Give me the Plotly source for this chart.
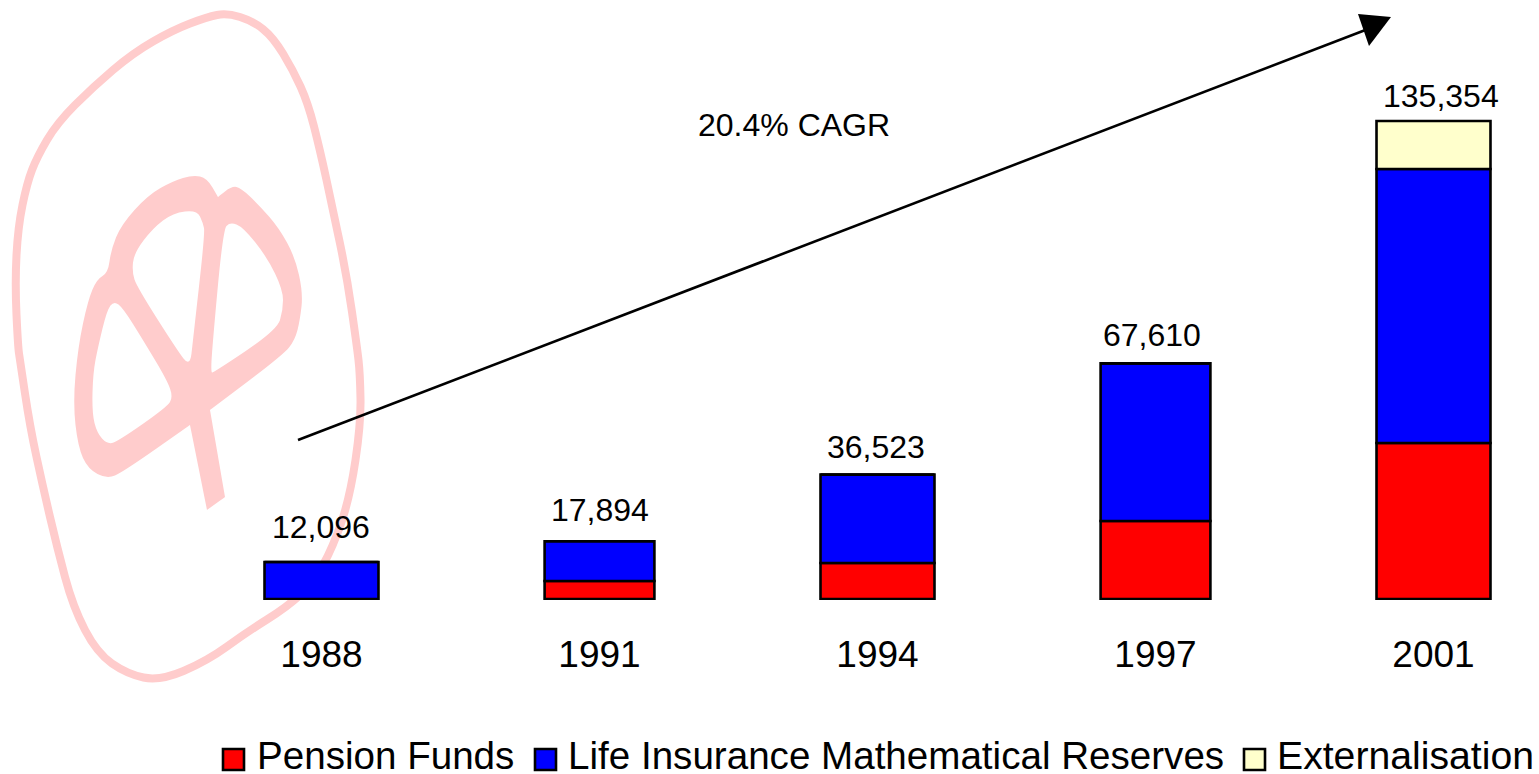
import plotly.graph_objects as go

# ---- data -------------------------------------------------------------
years = ["1988", "1991", "1994", "1997", "2001"]
pension_funds = [0, 5031, 10061, 21800, 43600]
life_insurance = [10341, 11108, 24707, 44055, 76580]
externalisation = [0, 0, 0, 0, 13419]
totals = [12096, 17894, 36523, 67610, 135354]
AXIS_FLOOR = 1755
series_names = ["Pension Funds", "Life Insurance Mathematical Reserves", "Externalisation"]
series_colors = ["#FF0000", "#0000FF", "#FFFFCC"]
cagr_label = "20.4% CAGR"

# ---- canvas helpers ---------------------------------------------------
W, H = 1539, 774
PX_PER_UNIT = 0.003578
FONT = "Liberation Sans, Arial, sans-serif"
PINK = "#FFCCCC"
BASE_PX = 600
STEP_PX = 278.0
FIRST_PX = 321.5


def px(x, y):
    return x / W, 1 - y / H


def path_straight(pts):
    out = []
    for i, (x, y) in enumerate(pts):
        a, b = px(x, y)
        out.append(f"{'M' if i == 0 else 'L'}{a:.5f},{b:.5f}")
    return " ".join(out) + " Z"


def path_smooth(pts):
    n = len(pts)
    mids = [((pts[i][0] + pts[(i + 1) % n][0]) / 2, (pts[i][1] + pts[(i + 1) % n][1]) / 2) for i in range(n)]
    a, b = px(*mids[-1])
    out = [f"M{a:.5f},{b:.5f}"]
    for i in range(n):
        c = px(*pts[i])
        m = px(*mids[i])
        out.append(f"Q{c[0]:.5f},{c[1]:.5f} {m[0]:.5f},{m[1]:.5f}")
    return " ".join(out) + " Z"


# ---- watermark outline (decoration) -----------------------------------
ring = [(227, 13), (253, 21), (273, 37), (293, 70), (308, 103), (320, 150), (333, 210), (347, 277),
        (357, 347), (360, 373), (361, 423), (350, 497), (333, 547), (313, 583), (287, 607), (247, 632),
        (207, 661), (160, 681), (127, 674), (97, 653), (73, 607), (57, 547), (43, 487), (30, 427),
        (20, 360), (18, 347), (15, 283), (18, 227), (27, 183), (37, 157), (57, 123), (93, 87),
        (133, 53), (173, 30), (207, 17)]
logo = [(218, 197), (218, 197), (207, 178), (193, 175), (173, 181), (148, 195), (121, 225), (111, 250),
        (108, 273), (97, 279), (88, 300), (78, 347), (73, 403), (78, 447), (88, 469), (107, 479),
        (123, 472), (190, 425), (190, 425), (207, 510), (207, 510), (225, 497), (225, 497), (210, 410),
        (210, 410), (283, 355), (295, 340), (300, 320), (303, 293), (295, 257), (279, 228), (259, 205),
        (241, 188), (232, 186)]
holes = [
    [(114, 301), (107, 310), (98, 347), (93, 373), (92, 413), (97, 433), (107, 444), (117, 442),
     (167, 407), (173, 397), (167, 380), (143, 340), (123, 308)],
    [(197, 210), (173, 213), (153, 228), (134, 253), (132, 272), (137, 287), (177, 350), (190, 367),
     (193, 340), (205, 233), (203, 223)],
    [(230, 222), (223, 230), (212, 350), (211, 372), (213, 373), (277, 330), (283, 310), (283, 290),
     (267, 257), (243, 227)],
]

shapes = [
    dict(type="path", xref="paper", yref="paper", layer="below", path=path_smooth(ring),
         line=dict(color=PINK, width=8), fillcolor="rgba(0,0,0,0)"),
    dict(type="path", xref="paper", yref="paper", layer="below", fillrule="evenodd",
         path=path_smooth(logo) + " " + " ".join(path_smooth(h) for h in holes),
         line=dict(width=0), fillcolor=PINK),
]

# CAGR arrow
ax0, ay0 = px(298, 440)
ax1, ay1 = px(1368, 29)
shapes.append(dict(type="line", xref="paper", yref="paper", x0=ax0, y0=ay0, x1=ax1, y1=ay1,
                   line=dict(color="black", width=2.6)))
shapes.append(dict(type="path", xref="paper", yref="paper",
                   path=path_straight([(1358, 14), (1391, 17), (1369, 46)]),
                   line=dict(width=0), fillcolor="black"))

# ---- bars -------------------------------------------------------------
bar_widths = [0.41, 0.395, 0.41, 0.395, 0.41]
fig = go.Figure()
base = [AXIS_FLOOR] * len(years)
for name, color, vals in zip(series_names, series_colors, [pension_funds, life_insurance, externalisation]):
    fig.add_trace(go.Bar(x=years, y=vals, base=list(base), name=name, width=bar_widths,
                         marker=dict(color=color, line=dict(color="black", width=2.6)),
                         showlegend=False))
    base = [b + v for b, v in zip(base, vals)]

# ---- text -------------------------------------------------------------
label_xshift = [-1, 0, -2, -4, 7]
label_yshift = [15, 11, 8, 8, 5]
annotations = []
for i, (tot, xs, ys) in enumerate(zip(totals, label_xshift, label_yshift)):
    annotations.append(dict(x=i, y=tot, xref="x", yref="y", text=f"{tot:,}", showarrow=False,
                            xshift=xs, yshift=ys, yanchor="bottom",
                            font=dict(family=FONT, size=32, color="black")))
annotations.append(dict(x=793.5 / W, y=1 - 125 / H, xref="paper", yref="paper", text=cagr_label,
                        showarrow=False, yanchor="middle", font=dict(family=FONT, size=32, color="black")))

legend_swatch_left = [222, 534, 1243]
legend_text_left = [255, 566, 1275]
legend_font_sizes = [38.6, 38.6, 39.2]
for name, color, sx, tx, fs in zip(series_names, series_colors, legend_swatch_left, legend_text_left, legend_font_sizes):
    x0, y0 = px(sx + 1, 749)
    x1, y1 = px(sx + 22, 770)
    shapes.append(dict(type="rect", xref="paper", yref="paper", x0=x0, y0=y0, x1=x1, y1=y1,
                       fillcolor=color, line=dict(color="black", width=2.6)))
    annotations.append(dict(x=tx / W, y=1 - 755 / H, xref="paper", yref="paper", text=name,
                            xanchor="left", yanchor="middle", showarrow=False,
                            font=dict(family=FONT, size=fs, color="black")))

# ---- layout -----------------------------------------------------------
x_left = -FIRST_PX / STEP_PX
x_right = (W - FIRST_PX) / STEP_PX
y_low = AXIS_FLOOR - (BASE_PX - 599) / PX_PER_UNIT
y_high = AXIS_FLOOR + 599 / PX_PER_UNIT

fig.update_layout(
    width=W, height=H, autosize=False,
    margin=dict(l=0, r=0, t=0, b=0),
    paper_bgcolor="white", plot_bgcolor="rgba(0,0,0,0)",
    barmode="overlay",
    font=dict(family=FONT, color="black"),
    shapes=shapes, annotations=annotations,
    xaxis=dict(type="category", categoryorder="array", categoryarray=years,
               range=[x_left, x_right], showgrid=False, zeroline=False, showline=False,
               ticks="", ticklabelstandoff=29, tickfont=dict(family=FONT, size=37, color="black")),
    yaxis=dict(domain=[1 - BASE_PX / H, 1], range=[y_low, y_high], visible=False),
)

fig.write_html("out.html", config={"displayModeBar": False},
               post_script="document.body.style.margin='0';document.body.style.overflow='hidden';")
